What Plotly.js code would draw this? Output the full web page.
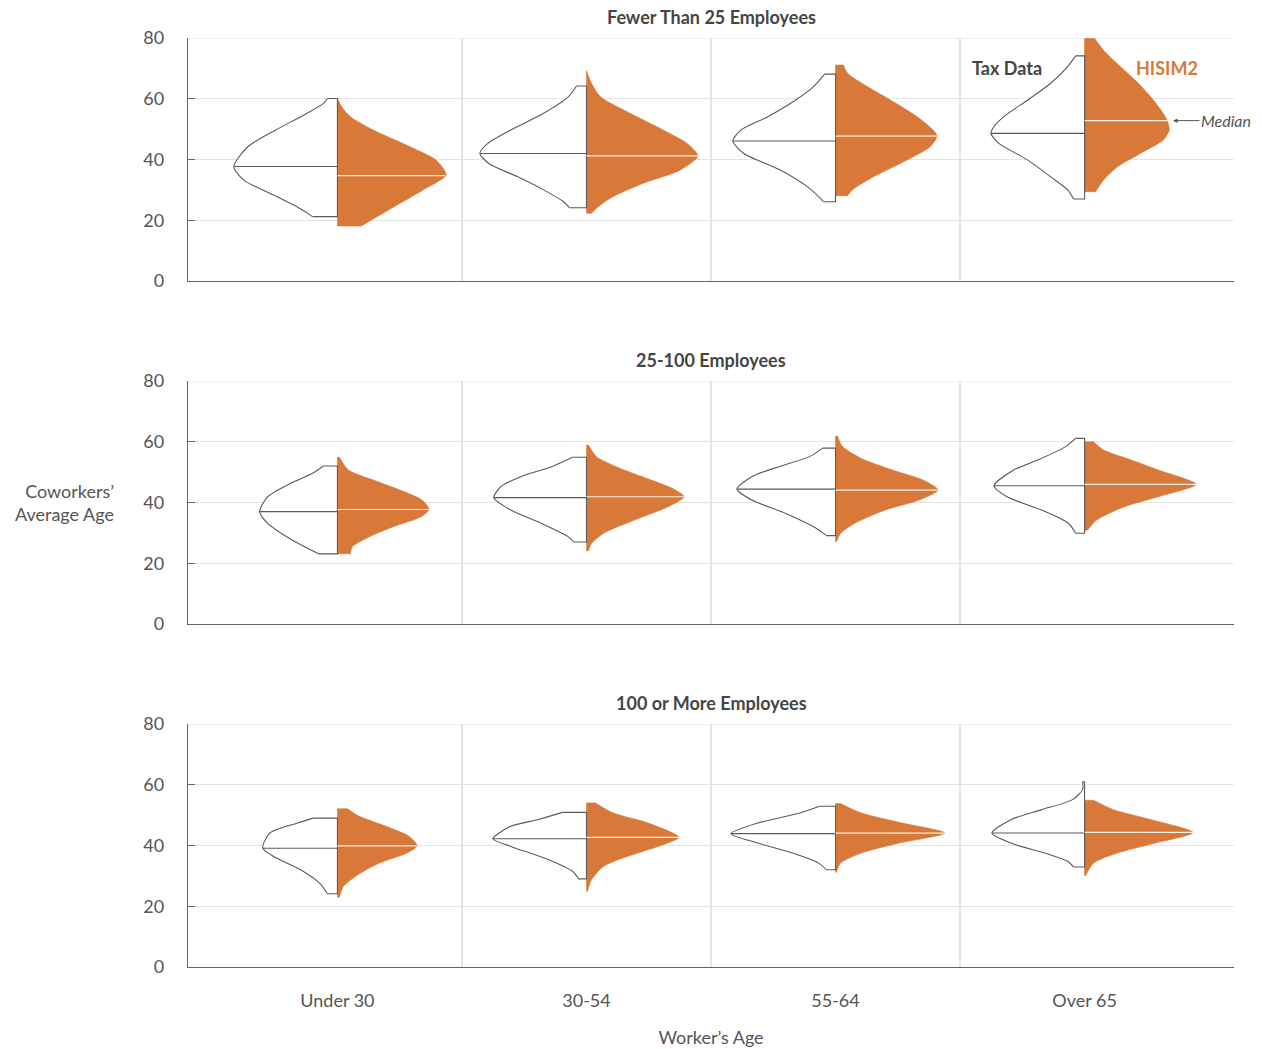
<!DOCTYPE html>
<html>
<head>
<meta charset="utf-8">
<script src="https://cdn.plot.ly/plotly-3.0.1.min.js"></script>
<style>
  html, body { margin: 0; padding: 0; background: #ffffff; }
  #chart { width: 1262px; height: 1049px; }
</style>
</head>
<body>
<div id="chart"></div>
<script>
// Worker age groups along the x axis
const categories = ['Under 30', '30-54', '55-64', 'Over 65'];
const panelTitles = ['Fewer Than 25 Employees', '25-100 Employees', '100 or More Employees'];

// Each violin half is an outline: coworkers' average age (bottom to top)
// and the relative density (half-width) at that age.

// ---- Fewer than 25 employees ----
const taxSmallAges = [
  [21.2, 24.5, 27.8, 33.2, 37.6, 44.2, 49.7, 54.6, 58.5, 60.1],
  [24.1, 26.1, 30.0, 34.3, 38.7, 42.0, 45.3, 49.7, 55.2, 60.7, 64.2],
  [26.1, 27.8, 31.0, 36.5, 42.0, 46.1, 49.7, 54.1, 59.6, 64.0, 68.1],
  [27.0, 30.0, 34.3, 39.8, 45.3, 48.6, 50.8, 54.1, 59.6, 65.1, 70.6, 74.1]
];
const taxSmallDensity = [
  [0.25, 0.41, 0.61, 0.94, 1.04, 0.90, 0.62, 0.34, 0.14, 0.10],
  [0.17, 0.23, 0.43, 0.69, 0.98, 1.07, 0.99, 0.76, 0.43, 0.18, 0.10],
  [0.12, 0.17, 0.28, 0.55, 0.92, 1.03, 0.95, 0.68, 0.40, 0.22, 0.11],
  [0.11, 0.17, 0.34, 0.57, 0.86, 0.94, 0.91, 0.81, 0.57, 0.34, 0.17, 0.09]
];
const taxSmallMedian = [37.7, 42.0, 46.1, 48.6];

const hisimSmallAges = [
  [18.1, 21.2, 25.6, 30.0, 34.9, 39.8, 44.2, 49.7, 54.1, 57.0, 60.1],
  [22.3, 24.5, 27.8, 32.2, 36.5, 41.2, 45.3, 49.7, 55.2, 60.7, 65.1, 69.2],
  [28.1, 30.0, 34.3, 38.7, 44.2, 47.7, 49.7, 54.1, 59.6, 64.0, 68.4, 71.1],
  [29.4, 33.2, 37.6, 42.0, 46.4, 49.7, 52.8, 55.2, 59.6, 65.1, 70.6, 76.0, 79.9]
];
const hisimSmallDensity = [
  [0.24, 0.40, 0.63, 0.86, 1.09, 0.99, 0.73, 0.36, 0.13, 0.05, 0.00],
  [0.05, 0.12, 0.27, 0.57, 0.94, 1.12, 1.01, 0.77, 0.44, 0.14, 0.05, 0.00],
  [0.12, 0.17, 0.38, 0.65, 0.95, 1.02, 0.98, 0.82, 0.55, 0.32, 0.12, 0.08],
  [0.11, 0.19, 0.33, 0.56, 0.79, 0.85, 0.83, 0.79, 0.69, 0.54, 0.36, 0.19, 0.10]
];
const hisimSmallMedian = [34.7, 41.2, 47.7, 52.8];

// ---- 25-100 employees ----
const taxMidAges = [
  [23.1, 25.4, 28.7, 33.1, 37.0, 41.9, 46.3, 49.6, 52.0],
  [27.0, 28.7, 33.1, 37.5, 41.6, 45.2, 48.5, 51.8, 54.9],
  [29.1, 32.0, 36.4, 40.8, 44.4, 48.5, 51.8, 55.1, 57.9],
  [29.9, 33.1, 37.5, 41.9, 45.5, 50.7, 54.0, 58.4, 61.1]
];
const taxMidDensity = [
  [0.19, 0.33, 0.51, 0.70, 0.78, 0.70, 0.47, 0.25, 0.14],
  [0.13, 0.18, 0.45, 0.76, 0.93, 0.86, 0.66, 0.35, 0.14],
  [0.09, 0.22, 0.50, 0.84, 0.99, 0.84, 0.57, 0.26, 0.13],
  [0.09, 0.16, 0.43, 0.78, 0.91, 0.71, 0.47, 0.19, 0.09]
];
const taxMidMedian = [37.0, 41.6, 44.4, 45.5];

const hisimMidAges = [
  [23.1, 25.4, 28.7, 32.0, 35.3, 37.7, 40.8, 44.1, 47.4, 50.7, 54.9],
  [24.1, 26.5, 29.8, 34.2, 38.6, 41.9, 44.7, 47.4, 50.7, 55.1, 58.9],
  [27.1, 29.8, 33.1, 37.5, 40.8, 44.1, 47.4, 50.7, 54.5, 58.4, 61.9],
  [30.9, 34.2, 38.6, 41.9, 46.0, 50.7, 54.0, 57.3, 60.0]
];
const hisimMidDensity = [
  [0.13, 0.15, 0.32, 0.56, 0.84, 0.92, 0.85, 0.63, 0.36, 0.11, 0.02],
  [0.02, 0.05, 0.17, 0.48, 0.82, 0.98, 0.86, 0.65, 0.38, 0.10, 0.02],
  [0.01, 0.05, 0.19, 0.50, 0.84, 1.03, 0.88, 0.57, 0.26, 0.07, 0.02],
  [0.03, 0.12, 0.40, 0.74, 1.12, 0.74, 0.47, 0.19, 0.09]
];
const hisimMidMedian = [37.7, 41.9, 44.1, 46.0];

// ---- 100 or more employees ----
const taxLargeAges = [
  [24.1, 27.6, 32.0, 36.4, 39.1, 44.1, 47.4, 49.0],
  [29.0, 31.5, 35.3, 39.7, 42.2, 46.3, 48.5, 50.9],
  [32.0, 34.2, 37.5, 40.8, 43.9, 47.4, 50.7, 52.9],
  [32.9, 34.8, 37.5, 40.8, 44.1, 48.5, 51.8, 55.1, 58.4, 61.0]
];
const taxLargeDensity = [
  [0.10, 0.18, 0.37, 0.64, 0.75, 0.68, 0.40, 0.24],
  [0.08, 0.14, 0.38, 0.76, 0.94, 0.76, 0.49, 0.24],
  [0.09, 0.17, 0.43, 0.78, 1.05, 0.78, 0.36, 0.16],
  [0.11, 0.17, 0.40, 0.74, 0.93, 0.74, 0.43, 0.12, 0.02, 0.02]
];
const taxLargeMedian = [39.1, 42.2, 43.9, 44.1];

const hisimLargeAges = [
  [23.0, 26.5, 29.8, 34.2, 37.5, 39.9, 43.0, 46.3, 49.6, 52.1],
  [24.9, 28.7, 33.1, 36.4, 39.7, 42.7, 47.4, 50.7, 54.0],
  [31.2, 34.2, 37.5, 40.8, 44.1, 47.4, 50.7, 53.8],
  [30.0, 34.2, 37.5, 40.8, 44.3, 48.5, 51.8, 54.9]
];
const hisimLargeDensity = [
  [0.02, 0.06, 0.18, 0.42, 0.70, 0.80, 0.72, 0.49, 0.22, 0.10],
  [0.01, 0.05, 0.17, 0.41, 0.72, 0.93, 0.62, 0.27, 0.09],
  [0.01, 0.05, 0.26, 0.64, 1.10, 0.67, 0.26, 0.05],
  [0.01, 0.09, 0.33, 0.71, 1.09, 0.67, 0.29, 0.09]
];
const hisimLargeMedian = [39.9, 42.7, 44.1, 44.3];

// Drawing setup
const ORANGE = '#d8793a';
const EDGE = '#5a5a5a';
const GRID = '#e4e4e4';
const TEXT = '#555555';
const FONT = 'Lato, "Open Sans", sans-serif';
const SCALE = 0.4;   // x-axis units per unit of density
const Y_MAX = 80;

const panels = [
  { tax: [taxSmallAges, taxSmallDensity, taxSmallMedian], hisim: [hisimSmallAges, hisimSmallDensity, hisimSmallMedian] },
  { tax: [taxMidAges, taxMidDensity, taxMidMedian], hisim: [hisimMidAges, hisimMidDensity, hisimMidMedian] },
  { tax: [taxLargeAges, taxLargeDensity, taxLargeMedian], hisim: [hisimLargeAges, hisimLargeDensity, hisimLargeMedian] }
];

// half-width of an outline at a given age
function widthAt(ages, dens, a) {
  for (let i = 0; i < ages.length - 1; i++) {
    if (a >= ages[i] && a <= ages[i + 1]) {
      const t = (a - ages[i]) / (ages[i + 1] - ages[i]);
      return dens[i] + t * (dens[i + 1] - dens[i]);
    }
  }
  return 0;
}

// One half violin: a straight spine (caps + centre line) followed by the
// smoothed outline, filled back to the spine.
function halfViolin(traces, c, ages, dens, sign, xa, ya, style) {
  const n = ages.length;
  const xs = dens.map(d => c + sign * d * SCALE);
  traces.push({
    type: 'scatter', mode: 'lines', xaxis: xa, yaxis: ya, hoverinfo: 'skip',
    x: [xs[0], c, c, xs[n - 1]],
    y: [ages[0], ages[0], ages[n - 1], ages[n - 1]],
    line: { color: style.edge, width: style.width }
  });
  traces.push({
    type: 'scatter', mode: 'lines', xaxis: xa, yaxis: ya, hoverinfo: 'skip',
    x: xs, y: ages,
    line: { color: style.edge, width: style.width, shape: 'spline', smoothing: 0.7 },
    fill: 'tonextx', fillcolor: style.fill
  });
}

const traces = [];
panels.forEach((p, k) => {
  const xa = k === 0 ? 'x' : 'x' + (k + 1);
  const ya = k === 0 ? 'y' : 'y' + (k + 1);
  categories.forEach((cat, i) => {
    const [hA, hD, hM] = [p.hisim[0][i], p.hisim[1][i], p.hisim[2][i]];
    const [tA, tD, tM] = [p.tax[0][i], p.tax[1][i], p.tax[2][i]];
    halfViolin(traces, i, hA, hD, 1, xa, ya, { edge: ORANGE, width: 0.6, fill: ORANGE });
    halfViolin(traces, i, tA, tD, -1, xa, ya, { edge: EDGE, width: 1.1, fill: '#ffffff' });
    // medians
    traces.push({
      type: 'scatter', mode: 'lines', xaxis: xa, yaxis: ya, hoverinfo: 'skip',
      x: [i - widthAt(tA, tD, tM) * SCALE, i], y: [tM, tM],
      line: { color: EDGE, width: 1.1 }
    });
    traces.push({
      type: 'scatter', mode: 'lines', xaxis: xa, yaxis: ya, hoverinfo: 'skip',
      x: [i, i + widthAt(hA, hD, hM) * SCALE], y: [hM, hM],
      line: { color: 'rgba(255,246,238,0.95)', width: 1.2 }
    });
  });
});

// Panel layout (top to bottom)
const domains = [[0.7384, 1], [0.3692, 0.6308], [0, 0.2616]];

const layout = {
  width: 1262, height: 1049,
  margin: { l: 188, r: 28, t: 38, b: 82 },
  paper_bgcolor: '#ffffff', plot_bgcolor: '#ffffff',
  showlegend: false,
  font: { family: FONT, color: TEXT, size: 17 },
  annotations: [],
  shapes: [],
  hovermode: false
};

domains.forEach((dom, k) => {
  const sfx = k === 0 ? '' : String(k + 1);
  layout['xaxis' + sfx] = {
    domain: [0, 1], anchor: 'y' + sfx, range: [-0.6, 3.6],
    tickvals: categories.map((c, i) => i), ticktext: categories,
    showticklabels: k === 2, ticks: '', ticklabelstandoff: 17,
    tickfont: { size: 18, color: TEXT, family: FONT },
    showgrid: false, zeroline: false,
    showline: true, linecolor: '#666666', linewidth: 1.3,
    minor: { tickvals: [0.5, 1.5, 2.5], showgrid: true, gridcolor: GRID, gridwidth: 1.3, ticks: '' },
    fixedrange: true
  };
  layout['yaxis' + sfx] = {
    domain: dom, anchor: 'x' + sfx, range: [0, Y_MAX],
    tickvals: [0, 20, 40, 60, 80],
    ticks: 'inside', ticklen: 7, tickcolor: '#666666', tickwidth: 1.3,
    ticklabelstandoff: 19,
    tickfont: { size: 18, color: TEXT, family: FONT },
    showgrid: true, gridcolor: GRID, gridwidth: 1, zeroline: false,
    showline: true, linecolor: '#666666', linewidth: 1.3,
    fixedrange: true
  };
  // top grid line of each panel
  layout.shapes.push({
    type: 'line', xref: 'x' + sfx + ' domain', x0: 0, x1: 1, yref: 'y' + sfx, y0: Y_MAX, y1: Y_MAX,
    line: { color: GRID, width: 1.2 }, layer: 'below'
  });
  layout.annotations.push({
    xref: 'paper', yref: 'paper', x: 0.5, y: dom[1], xanchor: 'center', yanchor: 'bottom',
    yshift: 8, showarrow: false, text: panelTitles[k],
    font: { family: FONT, size: 18, color: '#454545', weight: 'bold' }
  });
});

layout.xaxis3.title = { text: 'Worker’s Age', font: { size: 18, color: TEXT, family: FONT }, standoff: 21 };

// series labels and the median callout in the first panel
layout.annotations.push(
  { xref: 'x', yref: 'y', x: 2.69, y: 70.1, showarrow: false, text: 'Tax Data',
    font: { family: FONT, size: 18, color: '#454545', weight: 'bold' } },
  { xref: 'x', yref: 'y', x: 3.33, y: 70.1, showarrow: false, text: 'HISIM2',
    font: { family: FONT, size: 18, color: ORANGE, weight: 'bold' } },
  { xref: 'x', yref: 'y', x: 3.355, y: hisimSmallMedian[3], text: 'Median',
    showarrow: true, ax: 53, ay: 0, arrowhead: 2, arrowsize: 0.9, arrowwidth: 1,
    arrowcolor: '#555555', standoff: 0,
    font: { family: FONT, size: 16, color: TEXT, style: 'italic' } },
  { xref: 'paper', yref: 'y2', x: -0.0688, y: 40, xanchor: 'right', yanchor: 'middle',
    align: 'right', showarrow: false, text: 'Coworkers’<br>Average Age',
    font: { family: FONT, size: 18, color: TEXT } }
);

Plotly.newPlot('chart', traces, layout, { displayModeBar: false, staticPlot: true });
</script>
</body>
</html>
